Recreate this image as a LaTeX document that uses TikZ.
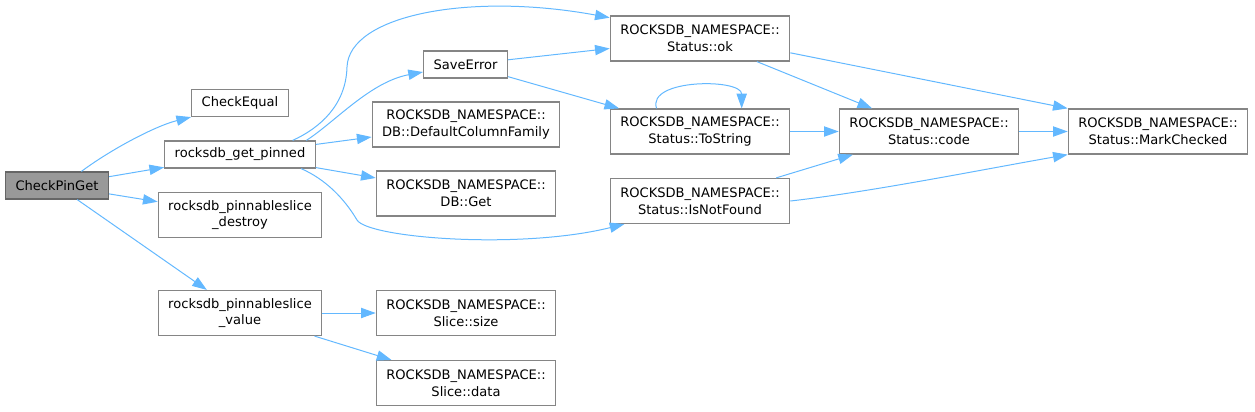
\documentclass[tikz,border=0pt]{standalone}
\usepackage{fontspec}
\setmainfont{DejaVu Sans}
\usetikzlibrary{arrows.meta}

\begin{document}
\begin{tikzpicture}[
    x=0.75pt, y=-0.75pt,
    font=\fontsize{9.8}{12.4}\selectfont,
]

\definecolor{edgeColor}{HTML}{63B8FF}
\definecolor{borderColor}{HTML}{858585}
\definecolor{rootBorder}{HTML}{666666}
\definecolor{rootColor}{HTML}{999999}

\tikzset{
    fn_node/.style = {rectangle, minimum height=20.25pt, inner xsep=7.5pt, inner ysep=2pt,
                      align=center, draw=borderColor, line width=0.9pt, fill=white},
    fn_node2/.style = {fn_node, minimum height=33.75pt},
    root_node/.style = {fn_node, draw=rootBorder, fill=rootColor},
    call_arrow/.style = {draw=edgeColor, line width=0.75pt, -{Triangle[length=11pt, width=7.7pt]}}
}

\useasboundingbox (0,0) rectangle (1255,411);

% =========== CALLER ===========
\node[root_node] (check_pin_get) at (57, 185.5) {CheckPinGet};

% =========== FIRST LEVEL ===========
\node[fn_node] (check_equal) at (240, 103) {CheckEqual};
\node[fn_node] (get_pinned) at (240, 154.5) {rocksdb\_get\_pinned};
\node[fn_node2] (ps_destroy) at (240, 215) {rocksdb\_pinnableslice\\\_destroy};
\node[fn_node2] (ps_value) at (240, 313) {rocksdb\_pinnableslice\\\_value};

% =========== SECOND LEVEL ===========
\node[fn_node] (save_error) at (465.5, 64.5) {SaveError};
\node[fn_node2] (default_cf) at (466, 124.5) {ROCKSDB\_NAMESPACE::\\DB::DefaultColumnFamily};
\node[fn_node2] (db_get) at (466, 193.5) {ROCKSDB\_NAMESPACE::\\DB::Get};
\node[fn_node2] (slice_size) at (466, 313) {ROCKSDB\_NAMESPACE::\\Slice::size};
\node[fn_node2] (slice_data) at (466, 383) {ROCKSDB\_NAMESPACE::\\Slice::data};

% =========== STATUS METHODS ===========
\node[fn_node2] (status_ok) at (700, 38.5) {ROCKSDB\_NAMESPACE::\\Status::ok};
\node[fn_node2] (status_tostring) at (700, 131.5) {ROCKSDB\_NAMESPACE::\\Status::ToString};
\node[fn_node2] (status_notfound) at (700, 201) {ROCKSDB\_NAMESPACE::\\Status::IsNotFound};
\node[fn_node2] (status_code) at (929, 131.5) {ROCKSDB\_NAMESPACE::\\Status::code};
\node[fn_node2] (status_markchecked) at (1158, 131.5) {ROCKSDB\_NAMESPACE::\\Status::MarkChecked};

% CheckPinGet calls
\draw[call_arrow] (check_pin_get.30) .. controls (110,150) and (155,126) .. (check_equal.south west);
\draw[call_arrow] (check_pin_get) -- (get_pinned);
\draw[call_arrow] (check_pin_get) -- (ps_destroy);
\draw[call_arrow] (check_pin_get) -- (ps_value);

% rocksdb_get_pinned calls
\draw[call_arrow] (get_pinned.15) .. controls (320,128) and (346,105) .. (347,67)
    .. controls (349,15) and (470,-8) .. (status_ok.167);
\draw[call_arrow] (get_pinned.12) .. controls (335,122) and (370,82) .. (save_error.190);
\draw[call_arrow] (get_pinned) -- (default_cf);
\draw[call_arrow] (get_pinned) -- (db_get);
\draw[call_arrow] (get_pinned.-13) .. controls (325,179) and (344,198) .. (357,220)
    .. controls (368,238) and (520,250) .. (status_notfound.197);

% rocksdb_pinnableslice_value calls
\draw[call_arrow] (ps_value) -- (slice_size);
\draw[call_arrow] (ps_value) -- (slice_data);

% SaveError calls
\draw[call_arrow] (save_error) -- (status_ok);
\draw[call_arrow] (save_error) -- (status_tostring);

% Status internals
\draw[call_arrow] (status_tostring.152) .. controls +(-10,-30) and +(0,-30) .. (status_tostring.29);
\draw[call_arrow] (status_tostring) -- (status_code);
\draw[call_arrow] (status_ok) -- (status_code);
\draw[call_arrow] (status_ok.-9) -- (status_markchecked.north west);
\draw[call_arrow] (status_notfound) -- (status_code);
\draw[call_arrow] (status_notfound.east) .. controls (870,192) and (980,170) .. (status_markchecked.south west);
\draw[call_arrow] (status_code) -- (status_markchecked);

\end{tikzpicture}
\end{document}
